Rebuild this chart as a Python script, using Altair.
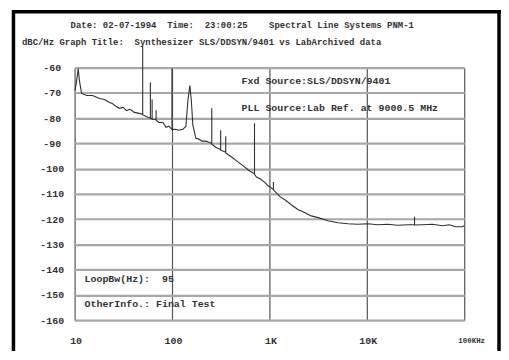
import altair as alt
import pandas as pd

# ---- data (frequency offset in Hz, phase noise in dBc/Hz)
freq_hz = [
    10.1, 10.5, 10.9, 11.2, 11.8, 13.3, 15.3, 18, 20.2, 22.8,
    24.4, 26.8, 28.8, 31.6, 34, 37.3, 41, 46,
    50, 50, 50, 54.3, 60, 60, 60, 62.5, 62.5, 62.5, 68.7, 68.7, 68.7,
    73.6, 80.9, 86.8, 93.1, 100, 100, 100, 107.4, 117.9, 129.5,
    139, 145.6, 152.6, 158, 163.7, 175.8, 188.7, 202, 222, 239,
    256, 256, 256, 281, 316, 316, 316, 356, 356, 356,
    382, 410, 450, 494, 543, 611, 655, 703, 703, 703,
    736, 809, 889, 977, 1048, 1099, 1099, 1099,
    1178, 1294, 1455, 1675, 1976, 2329, 2684, 3162, 4000, 5058,
    6398, 8091, 10236, 12950, 16380, 20720, 26200, 30900, 30900, 30900,
    37260, 47130, 59640, 70350, 80960, 95500, 100000,
]
phase_noise_dbc = [
    -69, -65.1, -60.4, -65, -70.2, -71, -71, -72.2, -72.6, -73.8,
    -74.2, -75.4, -76.1, -75.7, -77, -76.5, -77.7, -78.1,
    -78.5, -51.3, -78.6, -79.3, -80, -65.9, -80.1, -80.3, -72.6, -80.4, -80.5, -76.9, -80.8,
    -81.7, -81.7, -83.6, -83.2, -84.5, -60.3, -84.5, -84.4, -84.8, -84.4,
    -83.2, -73, -67.1, -73, -82.8, -88, -88.3, -89.1, -89.1, -89.5,
    -90, -76.1, -90.3, -91.5, -92.5, -84.8, -92.7, -93.5, -87.2, -93.8,
    -94.6, -95.4, -96.6, -97.8, -99, -100.6, -101.3, -102, -82, -102.2,
    -103.3, -104.1, -105.3, -106.9, -107.6, -108.3, -105.3, -108.4,
    -109.6, -111.2, -112.4, -114.3, -116.3, -117.5, -118.7, -119.4, -120.6, -121.4,
    -121.8, -122, -121.8, -122.2, -122, -122.4, -122.2, -122.2, -119, -122.3,
    -122.2, -122, -122.6, -122.2, -123, -123, -122.6,
]

y_ticks = [-60, -70, -80, -90, -100, -110, -120, -130, -140, -150, -160]
x_ticks = [10, 100, 1000, 10000, 100000]
x_tick_labels = ["10", "100", "1K", "10K", "100KHz"]

header_line1 = "Date: 02-07-1994  Time:  23:00:25    Spectral Line Systems PNM-1"
header_line2 = "dBC/Hz Graph Title:  Synthesizer SLS/DDSYN/9401 vs LabArchived data"
fxd_text = "Fxd Source:SLS/DDSYN/9401"
pll_text = "PLL Source:Lab Ref. at 9000.5 MHz"
loop_text = "LoopBw(Hz):  95"
other_text = "OtherInfo.: Final Test"

FONT = "Liberation Mono"
INK = "#333333"


def keep_spaces(s):
    # SVG collapses runs of spaces; use no-break spaces to keep the typewriter layout
    return s.replace(" ", "\u00a0")


df = pd.DataFrame({"f": freq_hz, "db": phase_noise_dbc, "i": list(range(len(freq_hz)))})

x_label_expr = " : ".join(
    f"datum.value == {v} ? '{t}'" for v, t in zip(x_ticks, x_tick_labels)
) + " : ''"

x_enc = alt.X(
    "f:Q",
    scale=alt.Scale(type="log", domain=[10, 100000], nice=False),
    axis=alt.Axis(
        values=x_ticks, labelExpr=x_label_expr, title=None,
        grid=True, gridColor="#555555", gridWidth=1.2,
        domain=False, ticks=False, tickSize=0,
        labelPadding=16, labelFont=FONT, labelFontWeight="bold",
        labelFontSize=alt.condition("datum.value == 100000", alt.value(7.5), alt.value(10)),
        labelOffset=alt.condition("datum.value == 100000", alt.value(7), alt.value(1)),
        labelColor=INK, labelFlush=False, labelOverlap=False,
    ),
)
y_enc = alt.Y(
    "db:Q",
    scale=alt.Scale(domain=[-160, -60], nice=False, zero=False),
    axis=alt.Axis(
        values=y_ticks, labelExpr="'' + datum.value", title=None,
        grid=True, gridColor="#a8a8a8", gridWidth=2.2,
        domain=False, ticks=False, tickSize=0,
        labelPadding=23, labelAlign="center", labelBaseline="middle",
        labelFont=FONT, labelFontSize=10, labelColor=INK, labelFontWeight="bold",
        labelFlush=False, labelOverlap=False,
    ),
)

curve = alt.Chart(df).mark_line(color="#303030", strokeWidth=1.1, clip=False).encode(
    x=x_enc, y=y_enc, order="i:Q"
)


def label(text, x, y, size):
    return alt.Chart(pd.DataFrame({"t": [keep_spaces(text)]})).mark_text(
        align="left", baseline="middle", font=FONT, fontSize=size, color=INK,
        fontWeight="bold",
    ).encode(x=alt.value(x), y=alt.value(y), text="t:N")


one = pd.DataFrame({"k": [0]})
frame_left = alt.Chart(one).mark_rule(color="black", strokeWidth=3.5).encode(
    x=alt.value(-61.5), y=alt.value(-58), y2=alt.value(300)
)
frame_right = alt.Chart(one).mark_rule(color="black", strokeWidth=3.5).encode(
    x=alt.value(427), y=alt.value(-58), y2=alt.value(300)
)
frame_top = alt.Chart(one).mark_rule(color="black", strokeWidth=3.5).encode(
    x=alt.value(-63), x2=alt.value(429), y=alt.value(-56.25)
)

chart = alt.layer(
    curve,
    label(header_line1, -4, -43, 9),
    label(header_line2, -53, -26, 9),
    label(fxd_text, 168, 13, 10),
    label(pll_text, 168, 41, 10),
    label(loop_text, 10, 213, 10),
    label(other_text, 10, 238, 10),
    frame_left, frame_right, frame_top,
).properties(
    width=392, height=254,
    autosize=alt.AutoSizeParams(type="none"),
    padding={"left": 67, "top": 59, "right": 37, "bottom": 30},
    background="white",
).configure_view(stroke=None)

chart.save("out.html", embed_options={"renderer": "svg", "actions": False})
